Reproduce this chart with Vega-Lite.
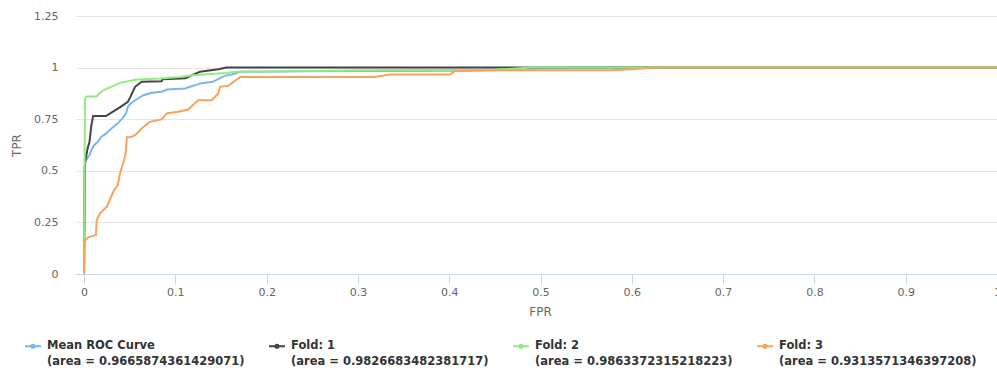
{
  "$schema": "https://vega.github.io/schema/vega-lite/v6.json",
  "width": 922,
  "height": 258,
  "autosize": {"type": "none"},
  "padding": {"left": 75, "top": 16, "right": 0, "bottom": 97},
  "background": "white",
  "config": {
    "view": {"stroke": null},
    "font": "DejaVu Sans",
    "style": {"guide-label": {"lineBreak": "\n", "lineHeight": 16}}
  },
  "data": {
    "values": [
      {"s": "Mean ROC Curve", "x": 0, "y": 0},
      {"s": "Mean ROC Curve", "x": 0.0003, "y": 0.52},
      {"s": "Mean ROC Curve", "x": 0.002, "y": 0.55},
      {"s": "Mean ROC Curve", "x": 0.006, "y": 0.576},
      {"s": "Mean ROC Curve", "x": 0.008, "y": 0.6},
      {"s": "Mean ROC Curve", "x": 0.011, "y": 0.624},
      {"s": "Mean ROC Curve", "x": 0.015, "y": 0.64},
      {"s": "Mean ROC Curve", "x": 0.019, "y": 0.665},
      {"s": "Mean ROC Curve", "x": 0.024, "y": 0.68},
      {"s": "Mean ROC Curve", "x": 0.03, "y": 0.705},
      {"s": "Mean ROC Curve", "x": 0.037, "y": 0.73},
      {"s": "Mean ROC Curve", "x": 0.042, "y": 0.754},
      {"s": "Mean ROC Curve", "x": 0.046, "y": 0.778},
      {"s": "Mean ROC Curve", "x": 0.048, "y": 0.81},
      {"s": "Mean ROC Curve", "x": 0.051, "y": 0.826},
      {"s": "Mean ROC Curve", "x": 0.056, "y": 0.842},
      {"s": "Mean ROC Curve", "x": 0.065, "y": 0.866},
      {"s": "Mean ROC Curve", "x": 0.074, "y": 0.878},
      {"s": "Mean ROC Curve", "x": 0.085, "y": 0.883},
      {"s": "Mean ROC Curve", "x": 0.091, "y": 0.894},
      {"s": "Mean ROC Curve", "x": 0.111, "y": 0.899},
      {"s": "Mean ROC Curve", "x": 0.116, "y": 0.907},
      {"s": "Mean ROC Curve", "x": 0.122, "y": 0.915},
      {"s": "Mean ROC Curve", "x": 0.127, "y": 0.923},
      {"s": "Mean ROC Curve", "x": 0.141, "y": 0.931},
      {"s": "Mean ROC Curve", "x": 0.147, "y": 0.944},
      {"s": "Mean ROC Curve", "x": 0.154, "y": 0.96},
      {"s": "Mean ROC Curve", "x": 0.162, "y": 0.967},
      {"s": "Mean ROC Curve", "x": 0.171, "y": 0.98},
      {"s": "Mean ROC Curve", "x": 0.237, "y": 0.982},
      {"s": "Mean ROC Curve", "x": 0.4, "y": 0.985},
      {"s": "Mean ROC Curve", "x": 0.456, "y": 0.99},
      {"s": "Mean ROC Curve", "x": 0.5, "y": 0.997},
      {"s": "Mean ROC Curve", "x": 0.55, "y": 1},
      {"s": "Mean ROC Curve", "x": 1, "y": 1},
      {"s": "Fold: 1", "x": 0, "y": 0},
      {"s": "Fold: 1", "x": 0.001, "y": 0.54},
      {"s": "Fold: 1", "x": 0.004, "y": 0.61},
      {"s": "Fold: 1", "x": 0.006, "y": 0.64},
      {"s": "Fold: 1", "x": 0.008, "y": 0.72},
      {"s": "Fold: 1", "x": 0.01, "y": 0.765},
      {"s": "Fold: 1", "x": 0.024, "y": 0.765},
      {"s": "Fold: 1", "x": 0.033, "y": 0.79},
      {"s": "Fold: 1", "x": 0.04, "y": 0.81},
      {"s": "Fold: 1", "x": 0.048, "y": 0.834},
      {"s": "Fold: 1", "x": 0.051, "y": 0.86},
      {"s": "Fold: 1", "x": 0.053, "y": 0.88},
      {"s": "Fold: 1", "x": 0.056, "y": 0.907},
      {"s": "Fold: 1", "x": 0.063, "y": 0.932},
      {"s": "Fold: 1", "x": 0.085, "y": 0.934},
      {"s": "Fold: 1", "x": 0.086, "y": 0.944},
      {"s": "Fold: 1", "x": 0.111, "y": 0.948},
      {"s": "Fold: 1", "x": 0.119, "y": 0.965},
      {"s": "Fold: 1", "x": 0.127, "y": 0.98},
      {"s": "Fold: 1", "x": 0.147, "y": 0.992},
      {"s": "Fold: 1", "x": 0.156, "y": 1},
      {"s": "Fold: 1", "x": 1, "y": 1},
      {"s": "Fold: 2", "x": 0, "y": 0},
      {"s": "Fold: 2", "x": 0.001, "y": 0.85},
      {"s": "Fold: 2", "x": 0.003, "y": 0.86},
      {"s": "Fold: 2", "x": 0.014, "y": 0.86},
      {"s": "Fold: 2", "x": 0.016, "y": 0.872},
      {"s": "Fold: 2", "x": 0.021, "y": 0.89},
      {"s": "Fold: 2", "x": 0.039, "y": 0.926},
      {"s": "Fold: 2", "x": 0.058, "y": 0.942},
      {"s": "Fold: 2", "x": 0.083, "y": 0.947},
      {"s": "Fold: 2", "x": 0.105, "y": 0.955},
      {"s": "Fold: 2", "x": 0.119, "y": 0.963},
      {"s": "Fold: 2", "x": 0.156, "y": 0.974},
      {"s": "Fold: 2", "x": 0.165, "y": 0.98},
      {"s": "Fold: 2", "x": 0.25, "y": 0.984},
      {"s": "Fold: 2", "x": 0.3, "y": 0.987},
      {"s": "Fold: 2", "x": 0.45, "y": 0.99},
      {"s": "Fold: 2", "x": 0.49, "y": 1},
      {"s": "Fold: 2", "x": 1, "y": 1},
      {"s": "Fold: 3", "x": 0, "y": 0},
      {"s": "Fold: 3", "x": 0.0003, "y": 0.157},
      {"s": "Fold: 3", "x": 0.0045, "y": 0.178},
      {"s": "Fold: 3", "x": 0.013, "y": 0.189},
      {"s": "Fold: 3", "x": 0.0139, "y": 0.261},
      {"s": "Fold: 3", "x": 0.0175, "y": 0.294},
      {"s": "Fold: 3", "x": 0.025, "y": 0.326},
      {"s": "Fold: 3", "x": 0.028, "y": 0.358},
      {"s": "Fold: 3", "x": 0.033, "y": 0.407},
      {"s": "Fold: 3", "x": 0.037, "y": 0.43},
      {"s": "Fold: 3", "x": 0.039, "y": 0.48},
      {"s": "Fold: 3", "x": 0.0405, "y": 0.503},
      {"s": "Fold: 3", "x": 0.044, "y": 0.552},
      {"s": "Fold: 3", "x": 0.046, "y": 0.6},
      {"s": "Fold: 3", "x": 0.0468, "y": 0.662},
      {"s": "Fold: 3", "x": 0.0504, "y": 0.662},
      {"s": "Fold: 3", "x": 0.056, "y": 0.673},
      {"s": "Fold: 3", "x": 0.063, "y": 0.705},
      {"s": "Fold: 3", "x": 0.072, "y": 0.737},
      {"s": "Fold: 3", "x": 0.085, "y": 0.749},
      {"s": "Fold: 3", "x": 0.0906, "y": 0.778},
      {"s": "Fold: 3", "x": 0.103, "y": 0.786},
      {"s": "Fold: 3", "x": 0.114, "y": 0.797},
      {"s": "Fold: 3", "x": 0.125, "y": 0.842},
      {"s": "Fold: 3", "x": 0.14, "y": 0.842},
      {"s": "Fold: 3", "x": 0.147, "y": 0.875},
      {"s": "Fold: 3", "x": 0.149, "y": 0.907},
      {"s": "Fold: 3", "x": 0.158, "y": 0.912},
      {"s": "Fold: 3", "x": 0.171, "y": 0.955},
      {"s": "Fold: 3", "x": 0.319, "y": 0.955},
      {"s": "Fold: 3", "x": 0.335, "y": 0.967},
      {"s": "Fold: 3", "x": 0.401, "y": 0.967},
      {"s": "Fold: 3", "x": 0.406, "y": 0.983},
      {"s": "Fold: 3", "x": 0.459, "y": 0.987},
      {"s": "Fold: 3", "x": 0.579, "y": 0.987},
      {"s": "Fold: 3", "x": 0.612, "y": 0.996},
      {"s": "Fold: 3", "x": 0.62, "y": 1},
      {"s": "Fold: 3", "x": 1, "y": 1}
    ]
  },
  "mark": {"type": "line", "strokeWidth": 2},
  "encoding": {
    "x": {
      "field": "x",
      "type": "quantitative",
      "scale": {"domain": [-0.0099, 1], "nice": false, "zero": false},
      "axis": {
        "title": "FPR",
        "values": [0, 0.1, 0.2, 0.3, 0.4, 0.5, 0.6, 0.7, 0.8, 0.9, 1],
        "labelExpr": "'' + datum.value",
        "grid": false,
        "domainColor": "#ccd6eb",
        "tickColor": "#ccd6eb",
        "tickSize": 10,
        "labelPadding": 2,
        "labelColor": "#666666",
        "labelFontSize": 11,
        "labelFont": "DejaVu Sans",
        "labelFlush": false,
        "labelOverlap": false,
        "titleColor": "#666666",
        "titleFont": "DejaVu Sans",
        "titleFontSize": 12,
        "titleFontWeight": "normal",
        "titlePadding": 9,
        "titleX": 465
      }
    },
    "y": {
      "field": "y",
      "type": "quantitative",
      "scale": {"domain": [0, 1.25], "nice": false},
      "axis": {
        "title": "TPR",
        "values": [0, 0.25, 0.5, 0.75, 1, 1.25],
        "labelExpr": "'' + datum.value",
        "grid": true,
        "gridColor": "#e6e6e6",
        "domain": false,
        "ticks": false,
        "labelPadding": 17,
        "labelColor": "#666666",
        "labelFontSize": 11,
        "labelFont": "DejaVu Sans",
        "labelFlush": false,
        "titleColor": "#666666",
        "titleFont": "DejaVu Sans",
        "titleFontSize": 12,
        "titleFontWeight": "normal",
        "titlePadding": 10
      }
    },
    "color": {
      "field": "s",
      "type": "nominal",
      "scale": {
        "domain": ["Mean ROC Curve", "Fold: 1", "Fold: 2", "Fold: 3"],
        "range": ["#7cb5ec", "#434348", "#90ed7d", "#f7a35c"]
      },
      "legend": {
        "title": null,
        "orient": "none",
        "legendX": -51,
        "legendY": 321,
        "direction": "horizontal",
        "columns": 4,
        "columnPadding": 20,
        "padding": 0,
        "labelFont": "DejaVu Sans",
        "labelFontSize": 11.5,
        "labelFontWeight": "bold",
        "labelColor": "#333333",
        "labelLimit": 400,
        "labelOffset": 5,
        "symbolType": "M-1,0L1,0M0.2,0A0.2,0.2 0 1,1 -0.2,0A0.2,0.2 0 1,1 0.2,0Z",
        "symbolSize": 256,
        "symbolStrokeWidth": 2,
        "labelExpr": "datum.label == 'Mean ROC Curve' ? 'Mean ROC Curve\\n(area = 0.9665874361429071)' : datum.label == 'Fold: 1' ? 'Fold: 1\\n(area = 0.9826683482381717)' : datum.label == 'Fold: 2' ? 'Fold: 2\\n(area = 0.9863372315218223)' : 'Fold: 3\\n(area = 0.9313571346397208)'"
      }
    }
  }
}
